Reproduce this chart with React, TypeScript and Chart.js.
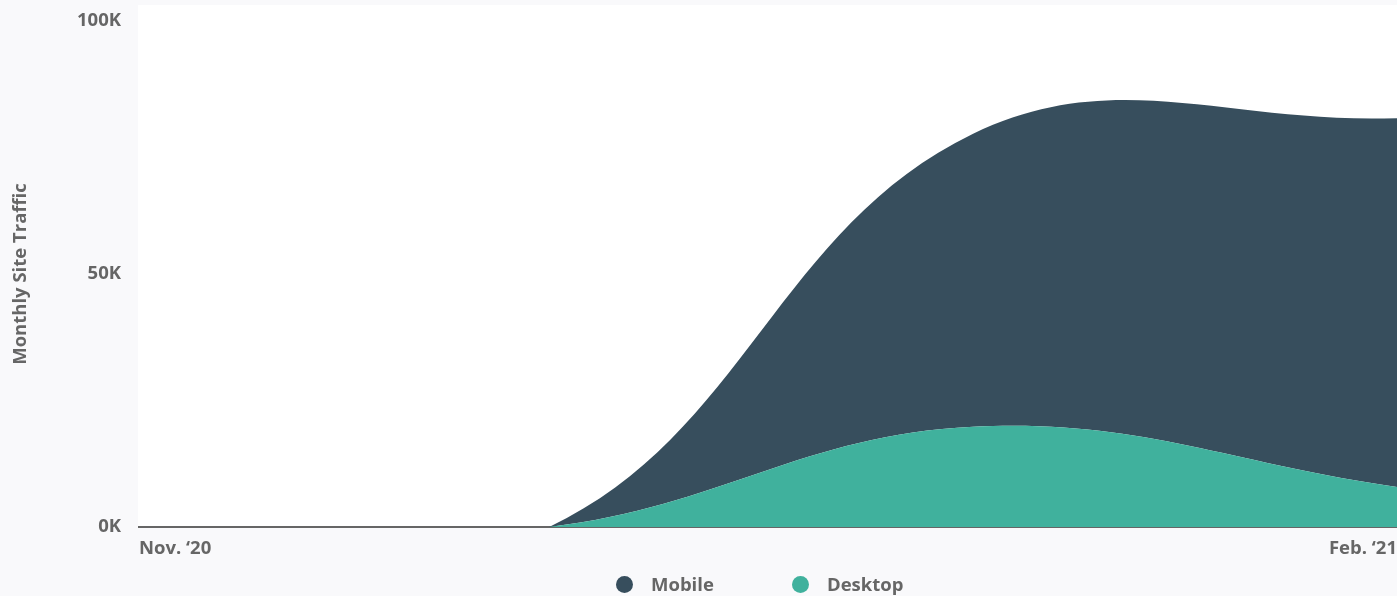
import React, { useEffect, useRef } from "react";
import { Chart, registerables } from "chart.js";

Chart.register(...registerables);

// Days since Nov 1, 2020 for each monthly data point (Nov 1, Dec 1, Jan 1, Feb 1)
const dayOffsets = [0, 30, 61, 92];
const monthNames = ["Nov. ‘20", "Dec. ‘20", "Jan. ‘21", "Feb. ‘21"];
const desktopValues = [0, 0, 19800, 7900];
const mobileValues = [0, 0, 57900, 72900];
const yTicks = [0, 50000, 100000];
const xTickDays = [0, 92];
const xTickLabels = ["Nov. ‘20", "Feb. ‘21"];

const MOBILE_COLOR = "#374E5D";
const DESKTOP_COLOR = "#40B19D";
const TEXT_COLOR = "#666666";
const FONT = "'Open Sans', sans-serif";
const FS = 18.5;

const whiteArea = {
  id: "whiteArea",
  beforeDraw(chart: any) {
    const { ctx, chartArea } = chart;
    ctx.save();
    ctx.fillStyle = "#ffffff";
    ctx.fillRect(chartArea.left - 1, 5, chartArea.right - chartArea.left + 1, chartArea.bottom - 5);
    ctx.restore();
  },
};

export default function App() {
  const ref = useRef<HTMLCanvasElement>(null);

  useEffect(() => {
    document.body.style.margin = "0";
    const canvas = ref.current!;
    const toPoints = (vals: number[]) => vals.map((v, i) => ({ x: dayOffsets[i], y: v }));
    const chart = new Chart(canvas, {
      type: "line",
      data: {
        labels: monthNames,
        datasets: [
          {
            label: "Desktop",
            data: toPoints(desktopValues),
            backgroundColor: DESKTOP_COLOR,
            borderColor: DESKTOP_COLOR,
            borderWidth: 0,
            pointRadius: 0,
            fill: "origin",
            tension: 0.4,
          },
          {
            label: "Mobile",
            data: toPoints(mobileValues),
            backgroundColor: MOBILE_COLOR,
            borderColor: MOBILE_COLOR,
            borderWidth: 0,
            pointRadius: 0,
            fill: "-1",
            tension: 0.4,
          },
        ],
      },
      options: {
        responsive: false,
        animation: false,
        parsing: false as any,
        layout: { padding: { top: 21, left: 0, right: 0, bottom: 0 } },
        plugins: {
          legend: { display: false },
          tooltip: { enabled: false },
        },
        scales: {
          x: {
            type: "linear",
            min: dayOffsets[0],
            max: dayOffsets[dayOffsets.length - 1],
            grid: { display: false, drawTicks: false },
            border: { display: true, color: "#666666", width: 2 },
            afterBuildTicks: (s: any) => {
              s.ticks = xTickDays.map((v) => ({ value: v }));
            },
            ticks: {
              autoSkip: false,
              maxRotation: 0,
              align: "inner",
              padding: 11,
              color: TEXT_COLOR,
              font: { family: FONT, size: FS, weight: "bold" },
              callback: (v: any) => {
                const i = xTickDays.indexOf(Number(v));
                return i >= 0 ? xTickLabels[i] : "";
              },
            },
            afterFit: (s: any) => {
              s.height = 69;
              s.paddingLeft = 0;
              s.paddingRight = 0;
            },
          },
          y: {
            stacked: true,
            min: 0,
            max: 100000,
            grid: { display: false, drawTicks: false },
            border: { display: false },
            afterBuildTicks: (s: any) => {
              s.ticks = yTicks.map((v) => ({ value: v }));
            },
            ticks: {
              padding: 18,
              color: TEXT_COLOR,
              font: { family: FONT, size: FS, weight: "bold" },
              callback: (v: any) => `${Number(v) / 1000}K`,
            },
            title: {
              display: true,
              text: "Monthly Site Traffic",
              color: TEXT_COLOR,
              font: { family: FONT, size: FS, weight: "bold" },
              padding: { top: 10, bottom: 0 },
            },
            afterFit: (s: any) => {
              s.width = 139;
              s.paddingTop = 0;
              s.paddingBottom = 0;
            },
          },
        },
      },
      plugins: [whiteArea],
    });
    return () => chart.destroy();
  }, []);

  const legendItem = (color: string, text: string, left: number) => (
    <div
      style={{
        position: "absolute",
        left,
        top: 574,
        height: 20,
        display: "flex",
        alignItems: "center",
      }}
    >
      <span
        style={{
          width: 17,
          height: 17,
          borderRadius: "50%",
          background: color,
          display: "inline-block",
        }}
      />
      <span
        style={{
          marginLeft: 18,
          fontFamily: FONT,
          fontWeight: 700,
          fontSize: FS,
          color: TEXT_COLOR,
          lineHeight: "20px",
        }}
      >
        {text}
      </span>
    </div>
  );

  return (
    <div
      style={{
        position: "relative",
        width: 1397,
        height: 596,
        background: "#F9F9FB",
        overflow: "hidden",
      }}
    >
      <canvas ref={ref} width={1397} height={596} style={{ display: "block" }} />
      {legendItem(MOBILE_COLOR, "Mobile", 616)}
      {legendItem(DESKTOP_COLOR, "Desktop", 792)}
    </div>
  );
}
